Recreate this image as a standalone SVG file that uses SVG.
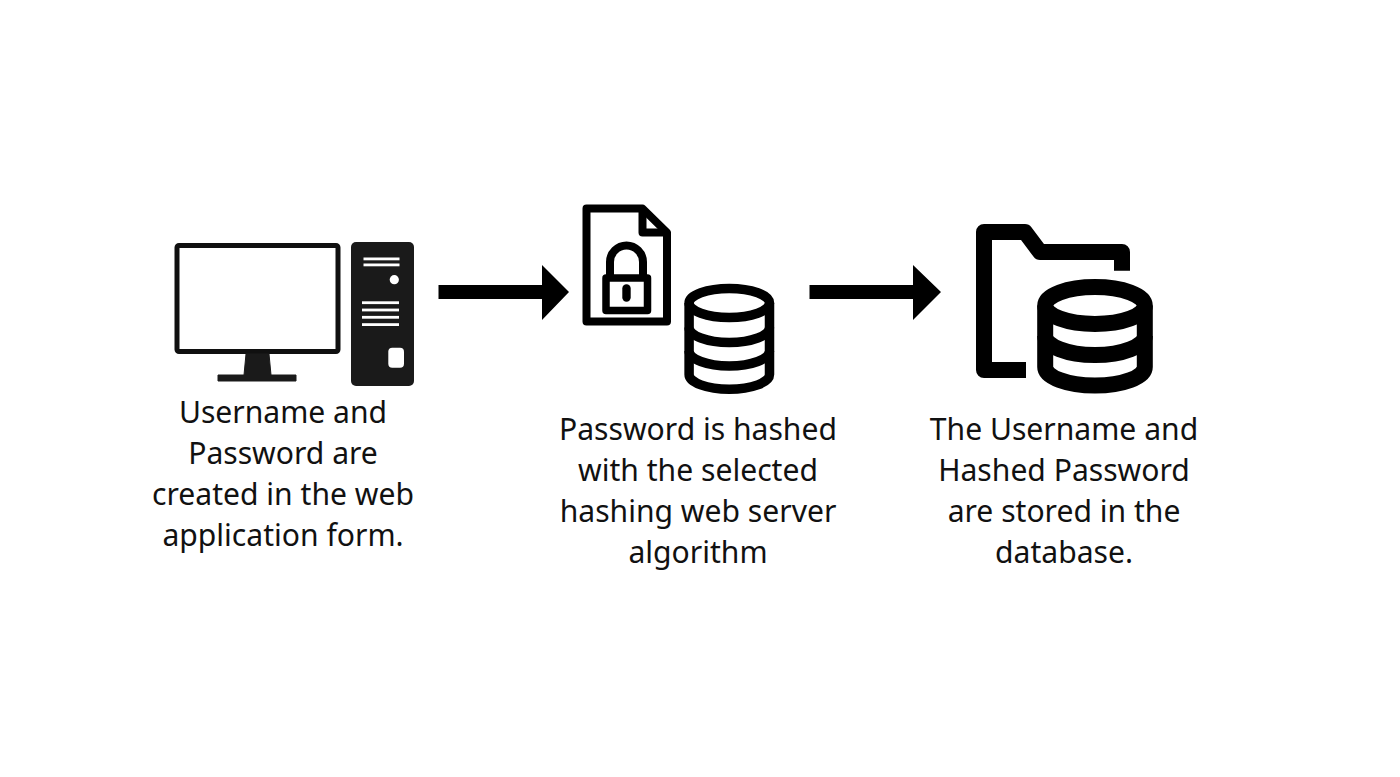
<svg xmlns="http://www.w3.org/2000/svg" width="1400" height="777" viewBox="0 0 1400 777">
<style>
text{font-family:"Noto Sans","Open Sans",sans-serif;font-size:30.1px;fill:#111;text-anchor:middle}
.ink{fill:none;stroke:#000;stroke-linejoin:round}
.slot{fill:#fff}
</style>
<rect width="1400" height="777" fill="#fff"/>
<g id="computer">
<rect x="177" y="245.500" width="161" height="106" rx="2" fill="#fff" stroke="#101010" stroke-width="5"/>
<path d="M246 354H269L271 375H296V381H218V375H244Z" fill="#1a1a1a" stroke="#1a1a1a" stroke-width="1" stroke-linejoin="round"/>
<rect x="351" y="242" width="63" height="144" rx="5" fill="#1a1a1a"/>
<rect class="slot" x="363.500" y="257.500" width="36" height="2.800"/>
<rect class="slot" x="363.500" y="263.500" width="36" height="2.800"/>
<circle class="slot" cx="394.300" cy="279.700" r="4.600"/>
<rect class="slot" x="362" y="301.300" width="37" height="2.800"/>
<rect class="slot" x="362" y="308.600" width="37" height="2.800"/>
<rect class="slot" x="362" y="315.900" width="37" height="2.800"/>
<rect class="slot" x="362" y="323.200" width="37" height="2.800"/>
<rect class="slot" x="388.300" y="347.700" width="15.700" height="20" rx="4"/>
</g>
<g id="locked-file" class="ink">
<path d="M586.500 208.500H642.500L667 232.500V321.500H586.500Z" stroke-width="8"/>
<path d="M642.500 208.500V232.500H667" stroke-width="8"/>
<rect x="606" y="278" width="41.500" height="32.500" stroke-width="7.500"/>
<path d="M610 278V262A16.500 16.500 0 0 1 643 262V278" stroke-width="8"/>
<rect x="622.300" y="284.300" width="8.400" height="17.400" rx="4.200" fill="#000" stroke="none"/>
</g>
<g id="hash-database" class="ink" stroke-width="9.500">
<ellipse cx="729.300" cy="303" rx="40.200" ry="14.500"/>
<path d="M689.100 303V374.500C689.100 382.500 707 389.300 729.300 389.300S769.500 382.500 769.500 374.500V303"/>
<path d="M689.100 327.500C689.100 335.500 707 342.500 729.300 342.500S769.500 335.500 769.500 327.500"/>
<path d="M689.100 351C689.100 359 707 366 729.300 366S769.500 359 769.500 351"/>
</g>
<g id="user-store" class="ink">
<path d="M1026 370H984V232H1025L1040 252H1122V270.700" stroke-width="16"/>
<ellipse cx="1095" cy="305.500" rx="49.800" ry="18.500" stroke-width="16"/>
<path d="M1045.200 305.500V367C1045.200 377 1067 385.500 1095 385.500S1144.800 377 1144.800 367V305.500" stroke-width="16"/>
<path d="M1045.200 336C1045.200 346 1067 355 1095 355S1144.800 346 1144.800 336" stroke-width="16"/>
</g>
<g id="connectors" fill="#000">
<path d="M438.500 285H542V265L569 292L542 320V299H438.500Z"/>
<path d="M809.500 285H913V265L941 292L913 320V299H809.500Z"/>
</g>
<g id="label-form">
<text x="283" y="422.500">Username and</text>
<text x="283" y="463.500">Password are</text>
<text x="283" y="504.500">created in the web</text>
<text x="283" y="545.500">application form.</text>
</g>
<g id="label-hash">
<text x="698" y="439.500">Password is hashed</text>
<text x="698" y="480.500">with the selected</text>
<text x="698" y="521.500">hashing web server</text>
<text x="698" y="562.500">algorithm</text>
</g>
<g id="label-store">
<text x="1064" y="439.500">The Username and</text>
<text x="1064" y="480.500">Hashed Password</text>
<text x="1064" y="521.500">are stored in the</text>
<text x="1064" y="562.500">database.</text>
</g>
</svg>
